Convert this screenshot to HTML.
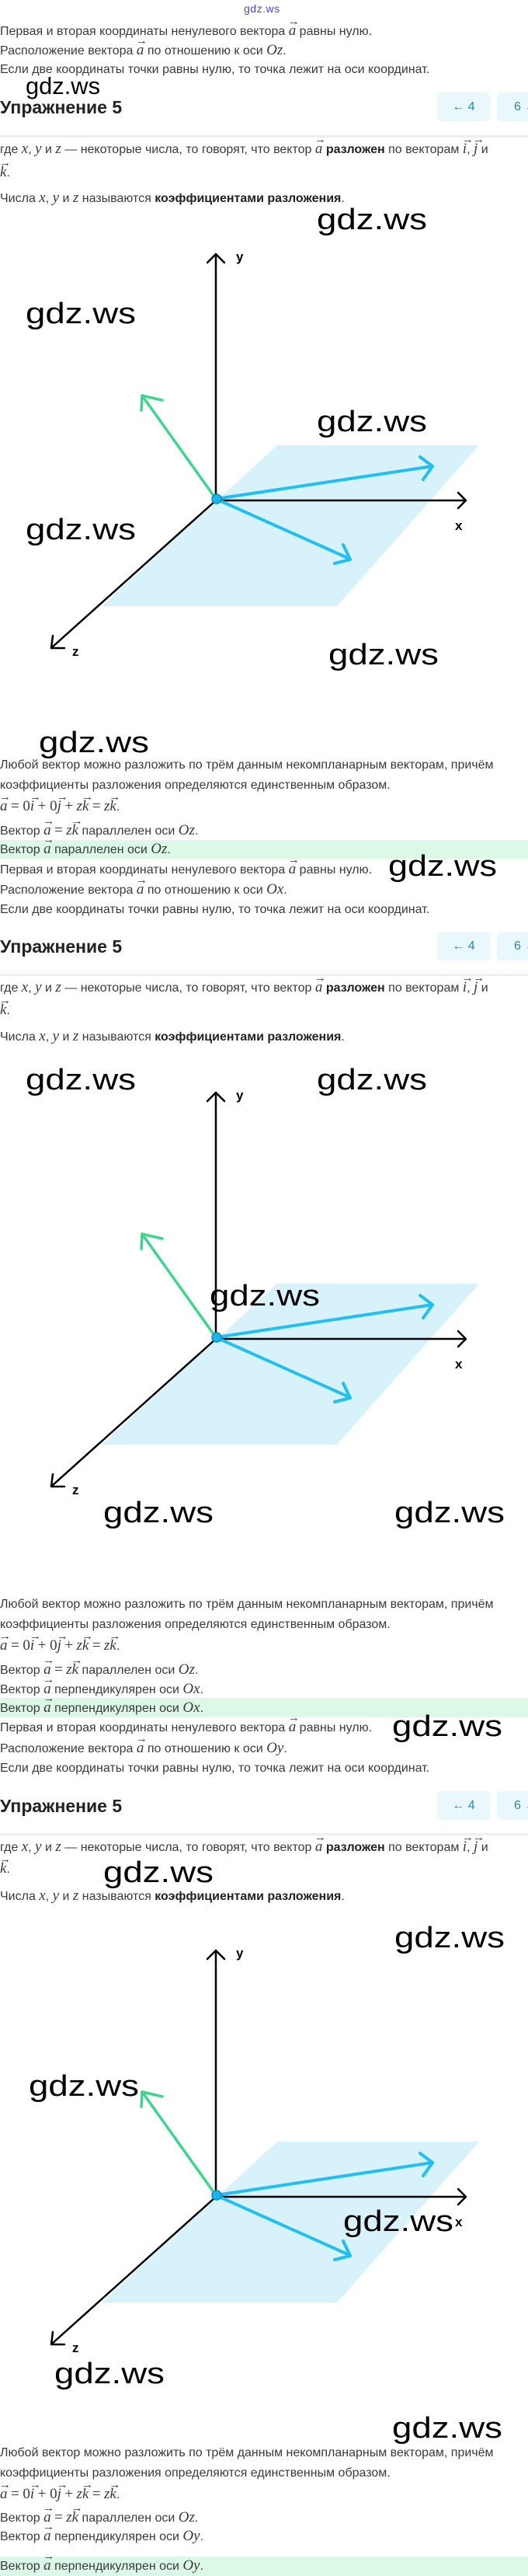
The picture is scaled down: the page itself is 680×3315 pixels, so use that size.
<!DOCTYPE html>
<html><head><meta charset="utf-8">
<style>
html,body{margin:0;padding:0;background:#fff;}
body{width:680px;height:3315px;position:relative;overflow:hidden;font-family:"Liberation Sans",sans-serif;}
.l{position:absolute;left:0;white-space:nowrap;font-size:16px;line-height:20px;height:20px;color:#3a3a3a;}
.h{position:absolute;left:0;white-space:nowrap;font-size:23px;line-height:30px;font-weight:bold;color:#222;}
.btn{position:absolute;height:37px;border-radius:6px;background:#e9f8fc;color:#2a86ad;font-size:16px;line-height:37px;text-align:center;}
.sep{position:absolute;left:0;width:680px;height:3px;background:#efefef;}
.gr{position:absolute;left:0;width:680px;background:#dcf9e8;}
.m{font-family:"Liberation Serif",serif;font-style:italic;font-size:19px;}
.n{font-family:"Liberation Serif",serif;font-size:19px;}
.v{position:relative;display:inline-block;font-family:"Liberation Serif",serif;font-style:italic;font-size:19px;}
.v::before{content:"→";position:absolute;left:-1px;top:-12px;font-style:normal;font-size:15px;}
b{color:#222;}
svg{position:absolute;left:0;top:0;}
</style></head><body>

<div style="position:absolute;left:314px;top:3px;font-size:14px;color:#4848d0;letter-spacing:0.5px;">gdz.ws</div>

<!-- Section 1 top -->
<div class="l" style="top:30px">Первая и вторая координаты ненулевого вектора <span class="v">a</span> равны нулю.</div>
<div class="l" style="top:55px">Расположение вектора <span class="v">a</span> по отношению к оси <span class="m">Oz</span>.</div>
<div class="l" style="top:80px">Если две координаты точки равны нулю, то точка лежит на оси координат.</div>
<div class="h" style="top:123px">Упражнение 5</div>
<div class="btn" style="left:563px;top:119px;width:68px">← 4</div>
<div class="btn" style="left:640px;top:119px;width:68px;text-align:left;padding-left:22px;box-sizing:border-box">6 →</div>
<div class="sep" style="top:174px"></div>
<div class="l" style="top:182px">где <span class="m">x</span>, <span class="m">y</span> и <span class="m">z</span> — некоторые числа, то говорят, что вектор <span class="v">a</span> <b>разложен</b> по векторам <span class="v">i</span>, <span class="v">j</span> и</div>
<div class="l" style="top:212px"><span class="v">k</span>.</div>
<div class="l" style="top:245px">Числа <span class="m">x</span>, <span class="m">y</span> и <span class="m">z</span> называются <b>коэффициентами разложения</b>.</div>

<!-- Section 1 bottom -->
<div class="l" style="top:975px">Любой вектор можно разложить по трём данным некомпланарным векторам, причём</div>
<div class="l" style="top:1001px">коэффициенты разложения определяются единственным образом.</div>
<div class="l" style="top:1028px"><span class="v">a</span> <span class="n">= 0</span><span class="v">i</span> <span class="n">+ 0</span><span class="v">j</span> <span class="n">+</span> <span class="m">z</span><span class="v">k</span> <span class="n">=</span> <span class="m">z</span><span class="v">k</span>.</div>
<div class="l" style="top:1059px">Вектор <span class="v">a</span> <span class="n">=</span> <span class="m">z</span><span class="v">k</span> параллелен оси <span class="m">Oz</span>.</div>
<div class="gr" style="top:1081px;height:24px"></div>
<div class="l" style="top:1083px">Вектор <span class="v">a</span> параллелен оси <span class="m">Oz</span>.</div>
<div class="l" style="top:1109px">Первая и вторая координаты ненулевого вектора <span class="v">a</span> равны нулю.</div>
<div class="l" style="top:1135px">Расположение вектора <span class="v">a</span> по отношению к оси <span class="m">Ox</span>.</div>
<div class="l" style="top:1161px">Если две координаты точки равны нулю, то точка лежит на оси координат.</div>
<div class="h" style="top:1203px">Упражнение 5</div>
<div class="btn" style="left:563px;top:1199px;width:68px">← 4</div>
<div class="btn" style="left:640px;top:1199px;width:68px;text-align:left;padding-left:22px;box-sizing:border-box">6 →</div>
<div class="sep" style="top:1253px"></div>
<div class="l" style="top:1261px">где <span class="m">x</span>, <span class="m">y</span> и <span class="m">z</span> — некоторые числа, то говорят, что вектор <span class="v">a</span> <b>разложен</b> по векторам <span class="v">i</span>, <span class="v">j</span> и</div>
<div class="l" style="top:1290px"><span class="v">k</span>.</div>
<div class="l" style="top:1324px">Числа <span class="m">x</span>, <span class="m">y</span> и <span class="m">z</span> называются <b>коэффициентами разложения</b>.</div>

<!-- Section 2 bottom -->
<div class="l" style="top:2055px">Любой вектор можно разложить по трём данным некомпланарным векторам, причём</div>
<div class="l" style="top:2081px">коэффициенты разложения определяются единственным образом.</div>
<div class="l" style="top:2108px"><span class="v">a</span> <span class="n">= 0</span><span class="v">i</span> <span class="n">+ 0</span><span class="v">j</span> <span class="n">+</span> <span class="m">z</span><span class="v">k</span> <span class="n">=</span> <span class="m">z</span><span class="v">k</span>.</div>
<div class="l" style="top:2139px">Вектор <span class="v">a</span> <span class="n">=</span> <span class="m">z</span><span class="v">k</span> параллелен оси <span class="m">Oz</span>.</div>
<div class="l" style="top:2164px">Вектор <span class="v">a</span> перпендикулярен оси <span class="m">Ox</span>.</div>
<div class="gr" style="top:2185px;height:25px"></div>
<div class="l" style="top:2188px">Вектор <span class="v">a</span> перпендикулярен оси <span class="m">Ox</span>.</div>
<div class="l" style="top:2213px">Первая и вторая координаты ненулевого вектора <span class="v">a</span> равны нулю.</div>
<div class="l" style="top:2240px">Расположение вектора <span class="v">a</span> по отношению к оси <span class="m">Oy</span>.</div>
<div class="l" style="top:2266px">Если две координаты точки равны нулю, то точка лежит на оси координат.</div>
<div class="h" style="top:2309px">Упражнение 5</div>
<div class="btn" style="left:563px;top:2305px;width:68px">← 4</div>
<div class="btn" style="left:640px;top:2305px;width:68px;text-align:left;padding-left:22px;box-sizing:border-box">6 →</div>
<div class="sep" style="top:2359px"></div>
<div class="l" style="top:2367px">где <span class="m">x</span>, <span class="m">y</span> и <span class="m">z</span> — некоторые числа, то говорят, что вектор <span class="v">a</span> <b>разложен</b> по векторам <span class="v">i</span>, <span class="v">j</span> и</div>
<div class="l" style="top:2395px"><span class="v">k</span>.</div>
<div class="l" style="top:2430px">Числа <span class="m">x</span>, <span class="m">y</span> и <span class="m">z</span> называются <b>коэффициентами разложения</b>.</div>

<!-- Section 3 bottom -->
<div class="l" style="top:3147px">Любой вектор можно разложить по трём данным некомпланарным векторам, причём</div>
<div class="l" style="top:3173px">коэффициенты разложения определяются единственным образом.</div>
<div class="l" style="top:3200px"><span class="v">a</span> <span class="n">= 0</span><span class="v">i</span> <span class="n">+ 0</span><span class="v">j</span> <span class="n">+</span> <span class="m">z</span><span class="v">k</span> <span class="n">=</span> <span class="m">z</span><span class="v">k</span>.</div>
<div class="l" style="top:3230px">Вектор <span class="v">a</span> <span class="n">=</span> <span class="m">z</span><span class="v">k</span> параллелен оси <span class="m">Oz</span>.</div>
<div class="l" style="top:3254px">Вектор <span class="v">a</span> перпендикулярен оси <span class="m">Oy</span>.</div>
<div class="gr" style="top:3290px;height:25px"></div>
<div class="l" style="top:3292px">Вектор <span class="v">a</span> перпендикулярен оси <span class="m">Oy</span>.</div>

<svg width="680" height="3315" viewBox="0 0 680 3315">
<defs>
<g id="dg">
  <polygon points="357,573 617,573 434,780 131,780" fill="#d7f2fb"/>
  <g stroke="#000" stroke-width="2.5" fill="none" stroke-linecap="round" stroke-linejoin="round">
    <line x1="278" y1="643" x2="278" y2="327"/>
    <polyline points="267,338 278,327 289,338"/>
    <line x1="278" y1="644" x2="599" y2="644"/>
    <polyline points="590,634 600,644 590,654"/>
    <line x1="278" y1="644" x2="67" y2="833"/>
    <polyline points="83,834 66,834 68,818"/>
  </g>
  <g fill="none" stroke-linecap="round" stroke-linejoin="round">
    <line x1="278" y1="642" x2="183" y2="509" stroke="#3dd68c" stroke-width="3.5"/>
    <polyline points="209,515 183,509 182,528" stroke="#3dd68c" stroke-width="3.5"/>
    <line x1="278" y1="642" x2="557" y2="600" stroke="#22bff0" stroke-width="4"/>
    <polyline points="541,588 557,600 545,617" stroke="#22bff0" stroke-width="4"/>
    <line x1="278" y1="642" x2="450" y2="719" stroke="#22bff0" stroke-width="4"/>
    <polyline points="442,701 451,720 431,725" stroke="#22bff0" stroke-width="4"/>
  </g>
  <circle cx="279" cy="642" r="6" fill="#1db4ec" stroke="#0a8cc0" stroke-width="1.5"/>
  <g font-family="Liberation Sans, sans-serif" font-weight="bold" font-size="17" fill="#000">
    <text x="304" y="336">y</text>
    <text x="586" y="682">x</text>
    <text x="93" y="844">z</text>
  </g>
</g>
</defs>
<use href="#dg"/>
<use href="#dg" transform="translate(0,1079)"/>
<use href="#dg" transform="translate(0,2183)"/>

<text x="33" y="121" font-family="Liberation Sans, sans-serif" font-size="31" textLength="96" lengthAdjust="spacingAndGlyphs">gdz.ws</text>
<g font-family="Liberation Sans, sans-serif" font-size="38" fill="#000">
  <text x="408" y="295" textLength="142" lengthAdjust="spacingAndGlyphs">gdz.ws</text>
  <text x="33" y="416" textLength="142" lengthAdjust="spacingAndGlyphs">gdz.ws</text>
  <text x="408" y="555" textLength="142" lengthAdjust="spacingAndGlyphs">gdz.ws</text>
  <text x="33" y="694" textLength="142" lengthAdjust="spacingAndGlyphs">gdz.ws</text>
  <text x="423" y="855" textLength="142" lengthAdjust="spacingAndGlyphs">gdz.ws</text>
  <text x="50" y="968" textLength="142" lengthAdjust="spacingAndGlyphs">gdz.ws</text>
  <text x="500" y="1127" textLength="140" lengthAdjust="spacingAndGlyphs">gdz.ws</text>

  <text x="33" y="1402" textLength="142" lengthAdjust="spacingAndGlyphs">gdz.ws</text>
  <text x="408" y="1402" textLength="142" lengthAdjust="spacingAndGlyphs">gdz.ws</text>
  <text x="270" y="1680" textLength="142" lengthAdjust="spacingAndGlyphs">gdz.ws</text>
  <text x="133" y="1959" textLength="142" lengthAdjust="spacingAndGlyphs">gdz.ws</text>
  <text x="508" y="1959" textLength="142" lengthAdjust="spacingAndGlyphs">gdz.ws</text>
  <text x="505" y="2234" textLength="142" lengthAdjust="spacingAndGlyphs">gdz.ws</text>
  <text x="133" y="2422" textLength="142" lengthAdjust="spacingAndGlyphs">gdz.ws</text>

  <text x="508" y="2506" textLength="142" lengthAdjust="spacingAndGlyphs">gdz.ws</text>
  <text x="37" y="2697" textLength="142" lengthAdjust="spacingAndGlyphs">gdz.ws</text>
  <text x="442" y="2871" textLength="142" lengthAdjust="spacingAndGlyphs">gdz.ws</text>
  <text x="70" y="3067" textLength="142" lengthAdjust="spacingAndGlyphs">gdz.ws</text>
  <text x="505" y="3137" textLength="142" lengthAdjust="spacingAndGlyphs">gdz.ws</text>
</g>
</svg>
</body></html>
